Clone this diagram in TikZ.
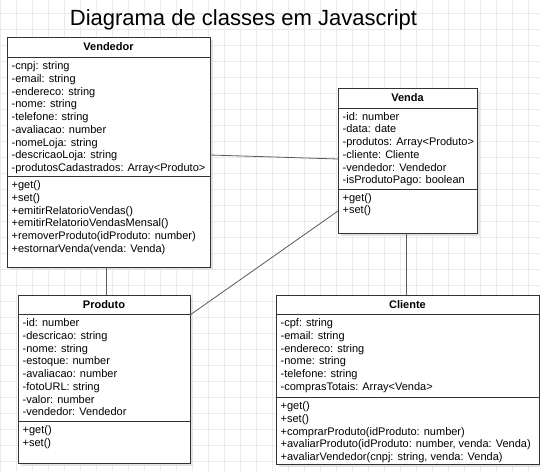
\documentclass[tikz,border=0pt]{standalone}
\usepackage{fontspec}
\setmainfont{Liberation Sans}
\usetikzlibrary{calc}
\definecolor{gridc}{HTML}{EBEBEB}
\definecolor{boxc}{HTML}{333333}
\definecolor{connc}{HTML}{5A5A5A}
\definecolor{shadowc}{HTML}{E2E2E2}
\tikzset{
  classbox/.style={draw=boxc, line width=1pt, fill=white, rectangle, inner sep=0pt, outer sep=0pt, anchor=north west},
  classname/.style={font=\fontsize{11}{13}\selectfont\bfseries, inner sep=0pt},
  members/.style={font=\fontsize{11}{12.75}\selectfont, align=left, anchor=north west, inner sep=0pt},
  sepline/.style={draw=boxc, line width=1pt},
  conn/.style={draw=connc, line width=0.8pt},
  gridline/.style={draw=gridc, line width=0.8pt},
  shadowbox/.style={fill=shadowc},
}
\begin{document}
\begin{tikzpicture}[x=1pt,y=-1pt]
\useasboundingbox (0,0) rectangle (540,471);
\fill[white] (0,0) rectangle (540,471);
\foreach \i in {0,...,33} \draw[gridline] (16*\i,0) -- (16*\i,471);
\foreach \j in {0,...,28} \draw[gridline] (0,13.3+16*\j) -- (540,13.3+16*\j);

% title
\node[font=\fontsize{22}{26}\selectfont, inner sep=0pt, anchor=base] (title) at (243.5,25) {Diagrama de classes em Javascript};

% shadows
\fill[shadowbox] (10,40) rectangle (213,270);
\fill[shadowbox] (341,91) rectangle (480,236);
\fill[shadowbox] (21,298) rectangle (193,466);
\fill[shadowbox] (279,298) rectangle (542,467);

% Vendedor
\node[classbox, minimum width=203pt, minimum height=230pt] (vend) at (7,37) {};
\draw[sepline] ($(vend.north west)+(0,20)$) -- ($(vend.north east)+(0,20)$);
\draw[sepline] ($(vend.north west)+(0,139)$) -- ($(vend.north east)+(0,139)$);
\node[classname] (vendT) at ($(vend.north)+(0,10)$) {Vendedor};
\node[members] (vendA) at ($(vend.north west)+(4.5,24.5)$) {-cnpj: string\\-email: string\\-endereco: string\\-nome: string\\-telefone: string\\-avaliacao: number\\-nomeLoja: string\\-descricaoLoja: string\\-produtosCadastrados: Array<Produto>};
\node[members] (vendM) at ($(vend.north west)+(4.5,143.5)$) {+get()\\+set()\\+emitirRelatorioVendas()\\+emitirRelatorioVendasMensal()\\+removerProduto(idProduto: number)\\+estornarVenda(venda: Venda)};

% Venda
\node[classbox, minimum width=139pt, minimum height=145pt] (ven) at (338,88) {};
\draw[sepline] ($(ven.north west)+(0,20)$) -- ($(ven.north east)+(0,20)$);
\draw[sepline] ($(ven.north west)+(0,101)$) -- ($(ven.north east)+(0,101)$);
\node[classname] (venT) at ($(ven.north)+(0,10)$) {Venda};
\node[members] (venA) at ($(ven.north west)+(4.5,24)$) {-id: number\\-data: date\\-produtos: Array<Produto>\\-cliente: Cliente\\-vendedor: Vendedor\\-isProdutoPago: boolean};
\node[members] (venM) at ($(ven.north west)+(4.5,105)$) {+get()\\+set()};

% Produto
\node[classbox, minimum width=172pt, minimum height=168pt] (prod) at (18,295) {};
\draw[sepline] ($(prod.north west)+(0,19)$) -- ($(prod.north east)+(0,19)$);
\draw[sepline] ($(prod.north west)+(0,126)$) -- ($(prod.north east)+(0,126)$);
\node[classname] (prodT) at ($(prod.north)+(0,9.5)$) {Produto};
\node[members] (prodA) at ($(prod.north west)+(4.5,23.5)$) {-id: number\\-descricao: string\\-nome: string\\-estoque: number\\-avaliacao: number\\-fotoURL: string\\-valor: number\\-vendedor: Vendedor};
\node[members] (prodM) at ($(prod.north west)+(4.5,130.5)$) {+get()\\+set()};

% Cliente
\node[classbox, minimum width=263pt, minimum height=169pt] (cli) at (276,295) {};
\draw[sepline] ($(cli.north west)+(0,19)$) -- ($(cli.north east)+(0,19)$);
\draw[sepline] ($(cli.north west)+(0,102)$) -- ($(cli.north east)+(0,102)$);
\node[classname] (cliT) at ($(cli.north)+(0,9.5)$) {Cliente};
\node[members] (cliA) at ($(cli.north west)+(4.5,23.5)$) {-cpf: string\\-email: string\\-endereco: string\\-nome: string\\-telefone: string\\-comprasTotais: Array<Venda>};
\node[members] (cliM) at ($(cli.north west)+(4.5,106.5)$) {+get()\\+set()\\+comprarProduto(idProduto: number)\\+avaliarProduto(idProduto: number, venda: Venda)\\+avaliarVendedor(cnpj: string, venda: Venda)};

% connectors
\draw[conn] ($(vend.north east)+(0,118)$) -- ($(ven.north west)+(0,71)$);
\draw[conn] ($(vend.south west)+(99,0)$) -- ($(prod.north west)+(88,0)$);
\draw[conn] ($(ven.north west)+(0,123)$) -- ($(prod.north east)+(0,20)$);
\draw[conn] ($(ven.south west)+(68,0)$) -- ($(cli.north west)+(130,0)$);
\end{tikzpicture}
\end{document}
